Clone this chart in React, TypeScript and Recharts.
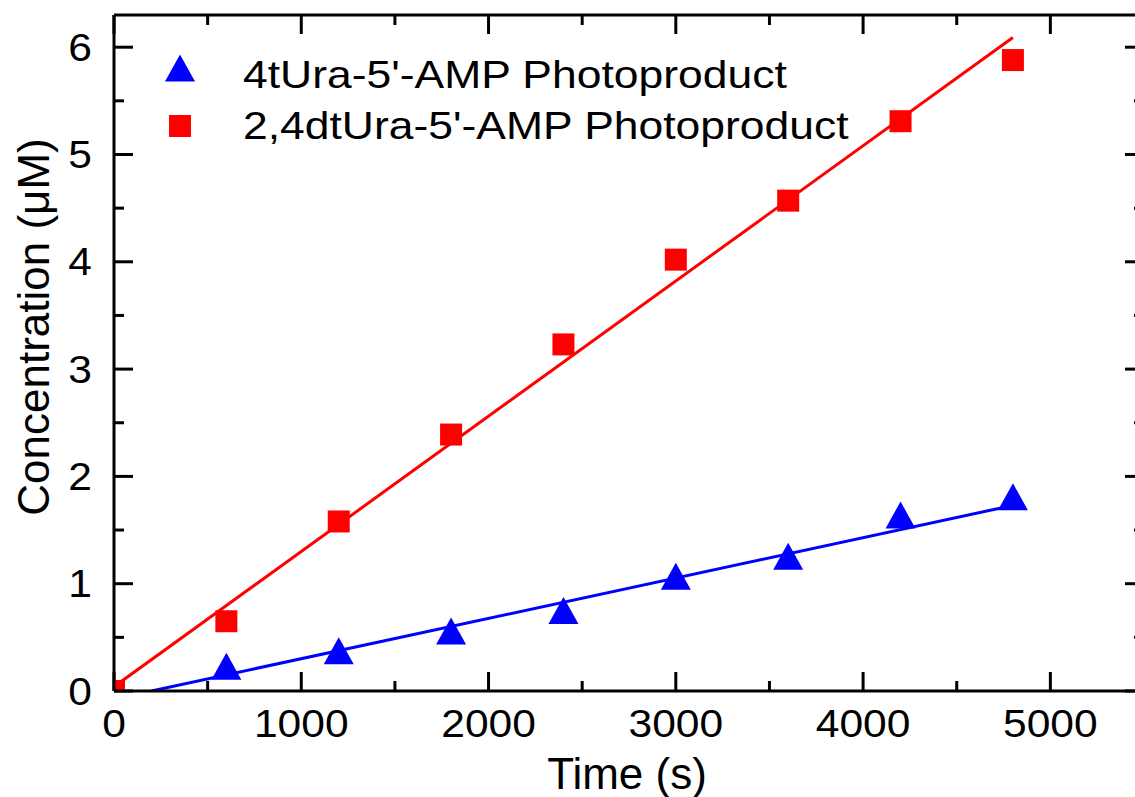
import React from 'react';
import { ComposedChart, Scatter, Line, XAxis, YAxis, Legend, Label } from 'recharts';

// ---- data ----
const timeSeconds = [0, 600, 1200, 1800, 2400, 3000, 3600, 4200, 4800];
const monoValues = [0, 0.23, 0.375, 0.56, 0.75, 1.07, 1.255, 1.64, 1.81]; // 4tUra-5'-AMP
const diValues = [0, 0.65, 1.58, 2.39, 3.23, 4.02, 4.57, 5.31, 5.88]; // 2,4dtUra-5'-AMP

const monoFitX = [200, 4800];
const monoFitY = [0, 1.73];
const diFitX = [0, 4800];
const diFitY = [0.04, 6.09];

const xMajorTicks = [0, 1000, 2000, 3000, 4000, 5000];
const xMinorTicks = [500, 1500, 2500, 3500, 4500];
const yMajorTicks = [0, 1, 2, 3, 4, 5, 6];
const yMinorTicks = [0.5, 1.5, 2.5, 3.5, 4.5, 5.5];

const seriesNames = ["4tUra-5'-AMP Photoproduct", "2,4dtUra-5'-AMP Photoproduct"];
const xTitle = 'Time (s)';
const yTitle = 'Concentration (\u03BCM)';

const monoData = timeSeconds.map((x, i) => ({ x, y: monoValues[i] }));
const diData = timeSeconds.map((x, i) => ({ x, y: diValues[i] }));
const monoFit = monoFitX.map((x, i) => ({ x, y: monoFitY[i] }));
const diFit = diFitX.map((x, i) => ({ x, y: diFitY[i] }));

const BLUE = '#0000ff';
const RED = '#ff0000';
const FONT = '"Liberation Sans", Arial, Helvetica, sans-serif';
const MAJOR = 19;
const MINOR = 10;
const TICK_FS = 38;
const TICK_SX = 1.12;

const xTicksAll = [...xMajorTicks, ...xMinorTicks].sort((a, b) => a - b);
const yTicksAll = [...yMajorTicks, ...yMinorTicks].sort((a, b) => a - b);

const Triangle = (p: any) => {
  const { cx, cy } = p;
  if (cx == null || cy == null) return null;
  const w = 15, h = 13.5;
  return <polygon points={`${cx},${cy - h} ${cx + w},${cy + h} ${cx - w},${cy + h}`} fill={BLUE} />;
};
const Square = (p: any) => {
  const { cx, cy } = p;
  if (cx == null || cy == null) return null;
  const s = 11;
  return <rect x={cx - s} y={cy - s} width={2 * s} height={2 * s} fill={RED} />;
};

const BottomTick = (p: any) => {
  const { x, y, payload } = p;
  const major = xMajorTicks.includes(payload.value);
  return (
    <g>
      <line x1={x} x2={x} y1={y} y2={y - (major ? MAJOR : MINOR)} stroke="#000" strokeWidth={3} />
      {major && (
        <text transform={`translate(${x} ${y + 46}) scale(${TICK_SX} 1)`} textAnchor="middle" fontFamily={FONT} fontSize={TICK_FS} fill="#000">
          {payload.value}
        </text>
      )}
    </g>
  );
};
const TopTick = (p: any) => {
  const { x, y, payload } = p;
  const major = xMajorTicks.includes(payload.value);
  return <line x1={x} x2={x} y1={y} y2={y + (major ? MAJOR : MINOR)} stroke="#000" strokeWidth={3} />;
};
const LeftTick = (p: any) => {
  const { x, y, payload } = p;
  const major = yMajorTicks.includes(payload.value);
  return (
    <g>
      <line x1={x} x2={x + (major ? MAJOR : MINOR)} y1={y} y2={y} stroke="#000" strokeWidth={3} />
      {major && (
        <text transform={`translate(${x - 22} ${y + 13.5}) scale(${TICK_SX} 1)`} textAnchor="end" fontFamily={FONT} fontSize={TICK_FS} fill="#000">
          {payload.value}
        </text>
      )}
    </g>
  );
};
const RightTick = (p: any) => {
  const { x, y, payload } = p;
  const major = yMajorTicks.includes(payload.value);
  return <line x1={x} x2={x - (major ? MAJOR : MINOR)} y1={y} y2={y} stroke="#000" strokeWidth={3} />;
};

const LegendContent = () => (
  <svg width={900} height={160} style={{ display: 'block' }}>
    <polygon points="180,54.5 195,81.5 165,81.5" fill={BLUE} />
    <rect x={169} y={115} width={22} height={22} fill={RED} />
    <text transform="translate(243 88) scale(1.17 1)" fontFamily={FONT} fontSize={38} fill="#000">{seriesNames[0]}</text>
    <text transform="translate(243 139) scale(1.17 1)" fontFamily={FONT} fontSize={38} fill="#000">{seriesNames[1]}</text>
  </svg>
);

const XTitle = (p: any) => {
  const vb = p.viewBox || {};
  return (
    <text x={vb.x + vb.width / 2 - 2} y={vb.y + 98} textAnchor="middle" fontFamily={FONT} fontSize={44} fill="#000">
      {xTitle}
    </text>
  );
};
const YTitle = (p: any) => {
  const vb = p.viewBox || {};
  const cx = vb.x - 64;
  const cy = vb.y + vb.height / 2 - 26;
  return (
    <text x={cx} y={cy} textAnchor="middle" transform={`rotate(-90 ${cx} ${cy})`} fontFamily={FONT} fontSize={44} fill="#000">
      {yTitle}
    </text>
  );
};

export default function App() {
  const W = 1160;
  const H = 797;
  return (
    <div style={{ position: 'absolute', left: 0, top: 0, width: 1135, height: 797, overflow: 'hidden', background: '#fff' }}>
      <ComposedChart width={W} height={H} margin={{ top: 14, left: 113, right: W - 1145, bottom: H - 692 }}>
        <XAxis
          xAxisId="b"
          type="number"
          dataKey="x"
          domain={[0, 5500]}
          allowDataOverflow
          ticks={xTicksAll}
          interval={0}
          height={1}
          tickSize={0}
          tickMargin={0}
          tickLine={false}
          tick={<BottomTick />}
          axisLine={{ stroke: '#000', strokeWidth: 3 }}
        >
          <Label content={<XTitle />} />
        </XAxis>
        <XAxis
          xAxisId="t"
          orientation="top"
          type="number"
          dataKey="x"
          domain={[0, 5500]}
          allowDataOverflow
          ticks={xTicksAll}
          interval={0}
          height={1}
          tickSize={0}
          tickMargin={0}
          tickLine={false}
          tick={<TopTick />}
          axisLine={{ stroke: '#000', strokeWidth: 3 }}
        />
        <YAxis
          yAxisId="l"
          type="number"
          dataKey="y"
          domain={[0, 6.3]}
          allowDataOverflow
          ticks={yTicksAll}
          interval={0}
          width={1}
          tickSize={0}
          tickMargin={0}
          tickLine={false}
          tick={<LeftTick />}
          axisLine={{ stroke: '#000', strokeWidth: 3 }}
        >
          <Label content={<YTitle />} />
        </YAxis>
        <YAxis
          yAxisId="r"
          orientation="right"
          type="number"
          dataKey="y"
          domain={[0, 6.3]}
          allowDataOverflow
          ticks={yTicksAll}
          interval={0}
          width={1}
          tickSize={0}
          tickMargin={0}
          tickLine={false}
          tick={<RightTick />}
          axisLine={{ stroke: '#000', strokeWidth: 3 }}
        />
        <Line xAxisId="b" yAxisId="l" data={diFit} dataKey="y" stroke={RED} strokeWidth={3} dot={false} activeDot={false} isAnimationActive={false} legendType="none" />
        <Line xAxisId="b" yAxisId="l" data={monoFit} dataKey="y" stroke={BLUE} strokeWidth={3} dot={false} activeDot={false} isAnimationActive={false} legendType="none" />
        <Scatter xAxisId="b" yAxisId="l" name={seriesNames[0]} data={monoData} dataKey="y" shape={<Triangle />} isAnimationActive={false} />
        <Scatter xAxisId="b" yAxisId="l" name={seriesNames[1]} data={diData} dataKey="y" shape={<Square />} isAnimationActive={false} />
        <Legend
          layout="horizontal"
          verticalAlign="middle"
          align="center"
          content={<LegendContent />}
          wrapperStyle={{ position: 'absolute', left: 0, top: 0, width: 900, height: 160 }}
        />
      </ComposedChart>
    </div>
  );
}
